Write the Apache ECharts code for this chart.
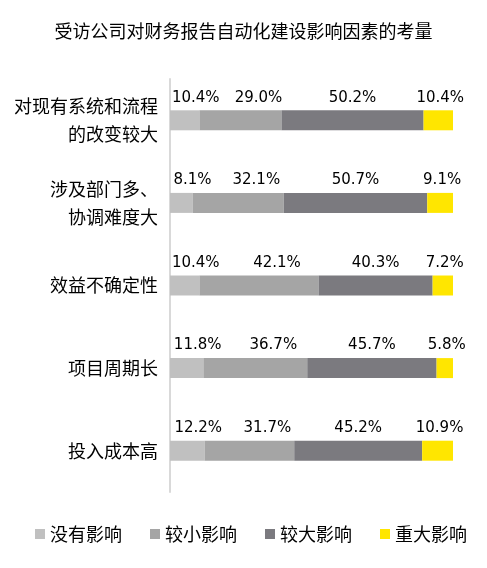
<!DOCTYPE html>
<html>
<head>
<meta charset="utf-8">
<script src="https://cdn.jsdelivr.net/npm/echarts@6/dist/echarts.min.js"></script>
<style>
  html, body { margin: 0; padding: 0; background: #fff; }
  #chart { width: 487px; height: 568px; }
</style>
</head>
<body>
<div id="chart"></div>
<script>
const categories = ['对现有系统和流程\n的改变较大', '涉及部门多、\n协调难度大', '效益不确定性', '项目周期长', '投入成本高']
const seriesNames = ['没有影响', '较小影响', '较大影响', '重大影响']
const noImpact = [10.4, 8.1, 10.4, 11.8, 12.2]
const smallImpact = [29.0, 32.1, 42.1, 36.7, 31.7]
const largeImpact = [50.2, 50.7, 40.3, 45.7, 45.2]
const majorImpact = [10.4, 9.1, 7.2, 5.8, 10.9]

const colors = ['#C0C0C0', '#A5A5A5', '#7B7A7F', '#FFE600']
// 标签在 Excel 里被手动挪开过，这里用偏移近似
const labelOffsets = [[11, 0], [18, 0], [0, 0], [2, 0]]
const cjk = '"Noto Sans CJK SC", sans-serif'

const chart = echarts.init(document.getElementById('chart'))

const values = [noImpact, smallImpact, largeImpact, majorImpact]

chart.setOption({
  animation: false,
  title: {
    text: '受访公司对财务报告自动化建设影响因素的考量',
    left: 'center',
    top: 17,
    textStyle: { fontFamily: cjk, fontSize: 18, fontWeight: 'normal', color: '#000' }
  },
  legend: {
    bottom: 20,
    left: 30,
    itemWidth: 10,
    itemHeight: 10,
    itemGap: 28,
    icon: 'rect',
    textStyle: { fontFamily: cjk, fontSize: 18, color: '#000' },
    data: seriesNames
  },
  grid: { left: 170, right: 34, top: 79, bottom: 76 },
  xAxis: {
    type: 'value',
    min: 0,
    max: 100,
    show: false
  },
  yAxis: {
    type: 'category',
    inverse: true,
    data: categories,
    axisLine: { lineStyle: { color: '#D9D9D9', width: 2 } },
    axisTick: { show: false },
    axisLabel: {
      fontFamily: cjk,
      fontSize: 18,
      color: '#000',
      lineHeight: 28,
      margin: 12,
      align: 'right',
      padding: [10, 0, 0, 0]
    }
  },
  series: seriesNames.map((name, i) => ({
    name,
    type: 'bar',
    stack: 'total',
    barWidth: 20,
    itemStyle: { color: colors[i] },
    label: {
      show: true,
      position: 'top',
      distance: 5,
      offset: labelOffsets[i],
      formatter: p => p.value.toFixed(1) + '%',
      fontFamily: '"DejaVu Sans", Verdana, sans-serif',
      fontSize: 15,
      color: '#000'
    },
    data: values[i]
  }))
})
</script>
</body>
</html>
